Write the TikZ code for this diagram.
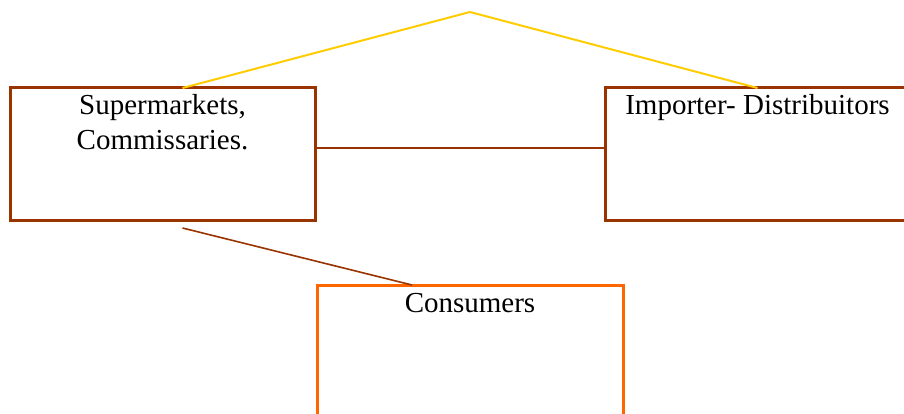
\documentclass[tikz,border=0pt]{standalone}
\usepackage{fontspec}
\setmainfont{Liberation Serif}
\usetikzlibrary{positioning,calc}
\definecolor{Rust}{HTML}{993300}
\definecolor{Gold}{HTML}{FFCC00}
\definecolor{Tangerine}{HTML}{FF6600}
\tikzset{
  chainbox/.style={draw=Rust,line width=3pt,minimum width=305pt,minimum height=132pt,inner sep=0pt,outer sep=0pt},
  endbox/.style={chainbox,draw=Tangerine},
  boxtext/.style={anchor=base,align=center,inner sep=0pt,font=\fontsize{29}{34}\selectfont,text=black},
  linkline/.style={draw=Rust,line width=1.6pt},
  topline/.style={draw=Gold,line width=2pt}
}
\begin{document}
\begin{tikzpicture}[x=1pt,y=1pt]
  \useasboundingbox (0,0) rectangle (904,413);
  \node[chainbox] (super) at (162.5,259) {};
  \node[chainbox,right=290pt of super] (importer) {};
  \node[endbox,minimum width=306pt] (consumer) at (470,62) {};
  \node[boxtext] (supertext) at ([yshift=-61pt]super.north) {Supermarkets,\\Commissaries.};
  \node[boxtext] (importertext) at ([yshift=-27pt]importer.north) {Importer- Distribuitors};
  \node[boxtext] (consumertext) at ([yshift=-27pt]consumer.north) {Consumers};
  \coordinate (apex) at (470,401);
  \draw[topline] ([xshift=20pt]super.north) -- (apex) -- (importer.north);
  \draw[linkline] ([yshift=6pt]super.east) -- ([yshift=6pt]importer.west);
  \draw[linkline] ([xshift=20pt,yshift=-8pt]super.south) -- ([xshift=-58pt]consumer.north);
\end{tikzpicture}
\end{document}
